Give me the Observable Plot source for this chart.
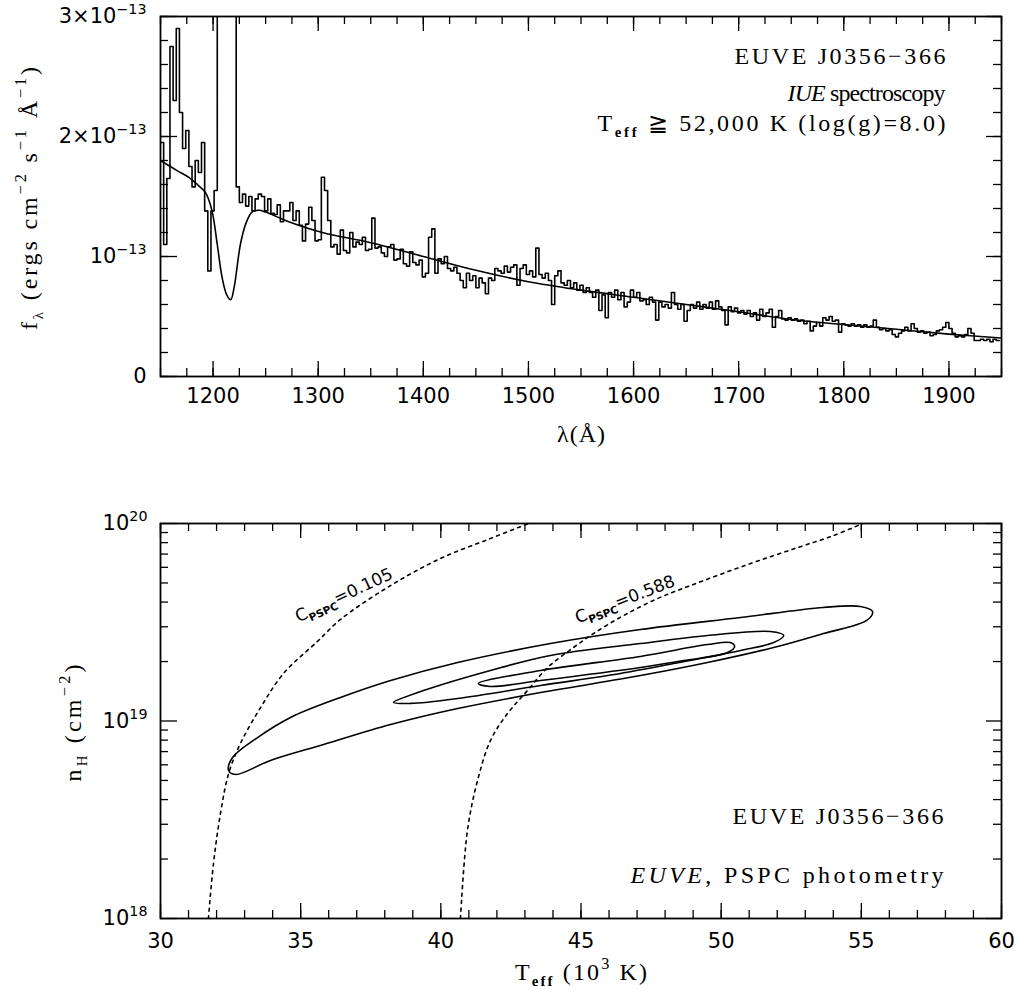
<!DOCTYPE html>
<html><head><meta charset="utf-8">
<script src="https://cdn.jsdelivr.net/npm/d3@7"></script>
<script src="https://cdn.jsdelivr.net/npm/@observablehq/plot@0.6"></script>
<style>
body{margin:0;background:#fff;}
#wrap{position:relative;width:1016px;height:989px;background:#fff;overflow:hidden;}
#wrap svg{position:absolute;left:0;overflow:visible;}
</style></head><body><div id="wrap"></div>
<script>
// ---------- Top panel data (flux in units of 1e-13 erg cm^-2 s^-1 A^-1) ----------
const specStart = 1150, specStep = 3;
const specFlux = [
  1.95,1.1,1.65,2.75,2.3,2.9,2.2,1.9,2.05,1.75,
  1.58,1.8,1.7,1.95,1.38,0.88,1.38,1.55,4.5,4.5,
  4.5,4.5,4.5,4.5,1.58,1.45,1.52,1.42,1.5,1.38,
  1.48,1.52,1.5,1.38,1.48,1.36,1.35,1.43,1.29,1.38,
  1.38,1.45,1.3,1.38,1.26,1.13,1.27,1.41,1.3,1.13,
  1.14,1.66,1.55,1.3,1.08,1.1,1.02,1.22,1.05,1.03,
  1.2,1.08,1.12,1.1,1.16,1.05,1.06,1.32,1.07,1.08,
  1.03,1.0,1.08,1.1,0.97,0.98,1.06,0.94,0.92,1.04,
  0.95,0.93,0.97,0.83,0.86,1.16,1.23,0.86,0.98,0.94,
  1.0,0.9,0.88,0.91,0.86,0.8,0.74,0.86,0.8,0.84,
  0.74,0.82,0.78,0.69,0.82,0.8,0.9,0.88,0.86,0.92,
  0.87,0.91,0.93,0.76,0.9,0.93,0.85,0.88,0.83,1.07,
  0.85,0.82,0.86,0.8,0.6,0.84,0.88,0.78,0.76,0.8,
  0.74,0.78,0.72,0.76,0.7,0.74,0.7,0.66,0.72,0.55,
  0.68,0.49,0.7,0.66,0.72,0.64,0.7,0.58,0.62,0.72,
  0.66,0.7,0.63,0.64,0.6,0.66,0.62,0.47,0.62,0.58,
  0.6,0.57,0.7,0.6,0.56,0.6,0.46,0.55,0.6,0.57,
  0.62,0.56,0.6,0.57,0.62,0.56,0.63,0.58,0.55,0.43,
  0.58,0.54,0.57,0.53,0.55,0.52,0.55,0.5,0.53,0.47,
  0.56,0.5,0.53,0.56,0.41,0.5,0.55,0.48,0.47,0.49,
  0.47,0.48,0.46,0.47,0.44,0.46,0.38,0.42,0.45,0.42,
  0.49,0.47,0.5,0.46,0.47,0.37,0.44,0.43,0.42,0.44,
  0.42,0.43,0.41,0.43,0.41,0.42,0.47,0.41,0.39,0.4,
  0.38,0.39,0.35,0.33,0.36,0.38,0.41,0.38,0.44,0.4,
  0.37,0.38,0.36,0.37,0.34,0.35,0.38,0.39,0.41,0.45,
  0.4,0.36,0.33,0.34,0.33,0.35,0.4,0.36,0.3,0.3,
  0.31,0.3,0.31,0.29,0.31,0.3,0.3
];
const modelWave = [1150,1165,1177,1185,1193,1199,1204,1208.5,1213,1216.8,1220,1221.6,1226,1231,1237,1244,1250,1272,1304,1350,1400,1450,1500,1550,1600,1650,1700,1750,1800,1850,1900,1950];
const modelFlux = [1.80,1.72,1.66,1.60,1.53,1.38,1.10,0.83,0.68,0.64,0.74,0.83,1.10,1.27,1.37,1.385,1.37,1.29,1.20,1.115,1.0,0.885,0.79,0.72,0.66,0.60,0.54,0.475,0.433,0.394,0.353,0.32];
const topXTicks = [1200,1300,1400,1500,1600,1700,1800,1900];
const topYTicks = [0,1,2,3];
const topYLabels = ["0","10^{−13}","2×10^{−13}","3×10^{−13}"];
const topNotes = ["EUVE J0356−366","~{IUE} spectroscopy","T_!{eff} ≧ 52,000 K (log(g)=8.0)"];

// ---------- Bottom panel data (T in 10^3 K, log10 nH) ----------
const outerT = [32.43,32.57,33.46,34.64,36.42,38.21,40.60,43.91,47.12,50.69,53.65,54.97,55.40,55.19,53.65,51.87,49.51,47.12,43.56,40.60,38.21,35.82,33.92,32.68];
const outerN = [18.749,18.815,18.916,19.018,19.119,19.205,19.296,19.392,19.463,19.524,19.575,19.580,19.554,19.509,19.443,19.372,19.296,19.230,19.144,19.063,18.982,18.881,18.800,18.729];
const midT = [38.31,39.38,41.77,43.91,47.12,49.51,51.76,52.23,51.87,50.69,48.30,45.95,43.56,40.60,38.92];
const midN = [19.094,19.154,19.256,19.332,19.392,19.433,19.453,19.433,19.397,19.357,19.291,19.230,19.180,19.114,19.089];
const innerT = [41.34,43.56,47.12,49.51,50.33,50.48,50.23,48.66,47.12,43.56,41.77];
const innerN = [19.190,19.256,19.327,19.387,19.397,19.377,19.347,19.306,19.271,19.205,19.175];
const c105T = [31.71,31.89,32.14,32.43,32.85,33.57,34.39,35.60,36.42,38.21,39.99,41.77,43.13];
const c105N = [18.0,18.278,18.532,18.734,18.886,19.068,19.241,19.403,19.514,19.686,19.823,19.924,20.0];
const c588T = [40.70,40.95,41.31,41.77,42.38,43.09,43.81,44.73,45.45,46.52,47.73,48.91,50.94,52.73,54.01,55.04];
const c588N = [18.0,18.446,18.699,18.901,19.038,19.154,19.271,19.372,19.443,19.534,19.620,19.686,19.792,19.878,19.939,20.0];
const curveLabels = ["C_!{PSPC}=0.105","C_!{PSPC}=0.588"];
const curveLabelT = [34.92,44.88];
const curveLabelN = [19.499,19.494];
const curveLabelAngle = [-25,-21];
const botXTicks = [30,35,40,45,50,55,60];
const botYTicks = [1e18,1e19,1e20];
const botYLabels = ["10^{18}","10^{19}","10^{20}"];
const botNotes = ["EUVE J0356−366","~{EUVE}, PSPC photometry"];

// ---------- helpers ----------
const SERIF = "Liberation Serif", SANS = "DejaVu Sans";
// rendered widths of the reference's texts (layout only)
const textWidths = {
  "EUVE J0356−366": 211,
  "~{IUE} spectroscopy": 158,
  "T_!{eff} ≧ 52,000 K (log(g)=8.0)": 348,
  "~{EUVE}, PSPC photometry": 313,
  "T_!{eff} (10^{3} K)": 132,
  "f_{λ} (ergs cm^{−2} s^{−1} Å^{−1})": 263,
  "n_{H} (cm^{−2})": 117,
  "λ(Å)": 48
};
function richify(svg){
  d3.select(svg).selectAll("text").each(function(){
    const t = this.textContent;
    if (/[\^_~]!?\{/.test(t)) {
      const fs = parseFloat(getComputedStyle(this).fontSize) || 20;
      this.textContent = "";
      const parts = t.split(/([\^_~]!?\{[^}]*\})/);
      let shift = 0;
      for (const p of parts){
        if (!p) continue;
        const ts = document.createElementNS("http://www.w3.org/2000/svg","tspan");
        let target = 0, size = null, txt = p;
        const m = p.match(/^([\^_~])(!?)\{([^}]*)\}$/);
        if (m){
          txt = m[3];
          if (m[1]==="^"){ target = -0.42*fs; size = 0.68*fs; }
          else if (m[1]==="_"){ target = 0.26*fs; size = 0.62*fs; }
          else { ts.setAttribute("font-style","italic"); }
          if (m[2]==="!") ts.setAttribute("font-weight","bold");
        }
        if (target - shift !== 0) ts.setAttribute("dy", target - shift);
        shift = target;
        if (size) ts.setAttribute("font-size", size);
        ts.textContent = txt;
        this.appendChild(ts);
      }
    }
    if (textWidths[t]) {
      this.setAttribute("textLength", textWidths[t]);
      this.setAttribute("lengthAdjust", "spacing");
    }
  });
}
function ticksMarks(xMajor, xMinor, yMajor, yMinor, W, H){
  const M = 15, m = 8, sw = 1.3;
  return [
    Plot.tickX(xMinor,{x:d=>d, insetTop:H-m, strokeWidth:sw}),
    Plot.tickX(xMinor,{x:d=>d, insetBottom:H-m, strokeWidth:sw}),
    Plot.tickX(xMajor,{x:d=>d, insetTop:H-M, strokeWidth:sw}),
    Plot.tickX(xMajor,{x:d=>d, insetBottom:H-M, strokeWidth:sw}),
    Plot.tickY(yMinor,{y:d=>d, insetRight:W-m, strokeWidth:sw}),
    Plot.tickY(yMinor,{y:d=>d, insetLeft:W-m, strokeWidth:sw}),
    Plot.tickY(yMajor,{y:d=>d, insetRight:W-M-2, strokeWidth:sw}),
    Plot.tickY(yMajor,{y:d=>d, insetLeft:W-M, strokeWidth:sw})
  ];
}
const TS = 21; // tick label size
const NS = 24; // annotation size

const wrap = document.getElementById("wrap");
const W = 841;

// ---------- Top panel ----------
const spec = specFlux.map((f,i)=>({w: specStart + specStep*i, f}));
const model = modelWave.map((w,i)=>({w, f: modelFlux[i]}));
const H1 = 360;
const topPlot = Plot.plot({
  width:1016, height:460,
  marginLeft:160, marginRight:15, marginTop:16, marginBottom:84,
  x:{domain:[1150,1950], axis:null},
  y:{domain:[0,3], axis:null},
  style:{background:"white", color:"black", overflow:"visible"},
  marks:[
    ...ticksMarks(topXTicks, d3.range(1150,1951,25), topYTicks, d3.range(0,3.01,0.2), W, H1),
    Plot.line(spec,{x:"w", y:"f", curve:"step-after", stroke:"black", strokeWidth:1.6, clip:true}),
    Plot.line(model,{x:"w", y:"f", curve:"catmull-rom", stroke:"black", strokeWidth:1.6, clip:true}),
    Plot.frame({stroke:"black", strokeWidth:1.8}),
    Plot.text(topXTicks,{x:d=>d, text:d=>String(d), frameAnchor:"bottom", lineAnchor:"top", dy:12, fontSize:TS, fontFamily:SANS}),
    Plot.text(topYTicks,{y:d=>d, text:d=>topYLabels[topYTicks.indexOf(d)], frameAnchor:"left", textAnchor:"end", lineAnchor:"middle", dx:-14, fontSize:TS, fontFamily:SANS}),
    Plot.text([topNotes[0]],{text:d=>d, frameAnchor:"top-right", textAnchor:"end", lineAnchor:"bottom", dx:-56, dy:47, fontSize:NS, fontFamily:SERIF}),
    Plot.text([topNotes[1]],{text:d=>d, frameAnchor:"top-right", textAnchor:"end", lineAnchor:"bottom", dx:-56, dy:84, fontSize:NS, fontFamily:SERIF}),
    Plot.text([topNotes[2]],{text:d=>d, frameAnchor:"top-right", textAnchor:"end", lineAnchor:"bottom", dx:-56, dy:114, fontSize:NS, fontFamily:SERIF}),
    Plot.text(["λ(Å)"],{text:d=>d, frameAnchor:"bottom", lineAnchor:"bottom", dy:65, fontSize:NS, fontFamily:SERIF}),
    Plot.text(["f_{λ} (ergs cm^{−2} s^{−1} Å^{−1})"],{text:d=>d, frameAnchor:"left", rotate:-90, textAnchor:"middle", lineAnchor:"bottom", dx:-124, dy:2, fontSize:NS, fontFamily:SERIF})
  ]
});
topPlot.style.top = "0px";
wrap.appendChild(topPlot);
richify(topPlot);

// ---------- Bottom panel ----------
const H2 = 395;
const toRows = (T,N)=>T.map((t,i)=>({t, n: 10**N[i]}));
const minorY = [];
for (const e of [1e18,1e19]) for (let k=2;k<=9;k++) minorY.push(k*e);
const labelRows = curveLabels.map((s,i)=>({s, t:curveLabelT[i], n:10**curveLabelN[i], a:curveLabelAngle[i]}));
const botPlot = Plot.plot({
  width:1016, height:529,
  marginLeft:160, marginRight:15, marginTop:63, marginBottom:71,
  x:{domain:[30,60], axis:null},
  y:{type:"log", domain:[1e18,1e20], axis:null},
  style:{background:"white", color:"black", overflow:"visible"},
  marks:[
    ...ticksMarks(botXTicks, d3.range(30,61,1), botYTicks, minorY, W, H2),
    Plot.line(toRows(outerT,outerN),{x:"t", y:"n", curve:"catmull-rom-closed", stroke:"black", strokeWidth:1.6}),
    Plot.line(toRows(midT,midN),{x:"t", y:"n", curve:"catmull-rom-closed", stroke:"black", strokeWidth:1.6}),
    Plot.line(toRows(innerT,innerN),{x:"t", y:"n", curve:"catmull-rom-closed", stroke:"black", strokeWidth:1.6}),
    Plot.line(toRows(c105T,c105N),{x:"t", y:"n", curve:"catmull-rom", stroke:"black", strokeWidth:1.6, strokeDasharray:"3,4.5", clip:true}),
    Plot.line(toRows(c588T,c588N),{x:"t", y:"n", curve:"catmull-rom", stroke:"black", strokeWidth:1.6, strokeDasharray:"3,4.5", clip:true}),
    Plot.text(labelRows,{x:"t", y:"n", text:"s", rotate:"a", textAnchor:"start", lineAnchor:"bottom", fontSize:17, fontFamily:SANS, fill:"black", stroke:"white", strokeWidth:3, paintOrder:"stroke"}),
    Plot.frame({stroke:"black", strokeWidth:1.8}),
    Plot.text(botXTicks,{x:d=>d, text:d=>String(d), frameAnchor:"bottom", lineAnchor:"top", dy:15, fontSize:TS, fontFamily:SANS}),
    Plot.text(botYTicks,{y:d=>d, text:d=>botYLabels[botYTicks.indexOf(d)], frameAnchor:"left", textAnchor:"end", lineAnchor:"middle", dx:-13, fontSize:TS, fontFamily:SANS}),
    Plot.text([botNotes[0]],{text:d=>d, frameAnchor:"bottom-right", textAnchor:"end", lineAnchor:"bottom", dx:-58, dy:-95, fontSize:NS, fontFamily:SERIF}),
    Plot.text([botNotes[1]],{text:d=>d, frameAnchor:"bottom-right", textAnchor:"end", lineAnchor:"bottom", dx:-58, dy:-36, fontSize:NS, fontFamily:SERIF}),
    Plot.text(["T_!{eff} (10^{3} K)"],{text:d=>d, frameAnchor:"bottom", lineAnchor:"bottom", dy:61, fontSize:NS, fontFamily:SERIF}),
    Plot.text(["n_{H} (cm^{−2})"],{text:d=>d, frameAnchor:"left", rotate:-90, textAnchor:"middle", lineAnchor:"bottom", dx:-80, dy:2, fontSize:NS, fontFamily:SERIF})
  ]
});
botPlot.style.top = "460px";
wrap.appendChild(botPlot);
richify(botPlot);
</script></body></html>
